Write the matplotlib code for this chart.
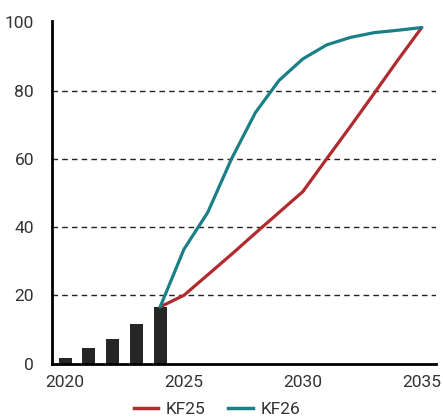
import matplotlib
matplotlib.use("Agg")
import matplotlib.pyplot as plt
from matplotlib.lines import Line2D

plt.rcParams['font.family'] = ['Roboto', 'DejaVu Sans']

bar_years = [2020, 2021, 2022, 2023, 2024]
bar_values = [1.7, 4.6, 7.3, 11.7, 16.6]

years = [2024, 2025, 2026, 2027, 2028, 2029, 2030, 2031, 2032, 2033, 2034, 2035]
kf25 = [16.6, 20.0, 26.0, 32.0, 38.2, 44.3, 50.4, 60.0, 69.5, 79.2, 89.0, 98.5]
kf26 = [16.6, 33.5, 44.3, 60.0, 73.5, 83.0, 89.3, 93.4, 95.6, 97.0, 97.7, 98.5]

xticks = [2020, 2025, 2030, 2035]
yticks = [0, 20, 40, 60, 80, 100]
gridlines = [20, 40, 60, 80]

red = '#B02A2E'
teal = '#1B7F87'

fig = plt.figure(figsize=(4.43, 4.17), dpi=100)
ax = fig.add_axes([52/443, 1-363.5/417, 384/443, (363.5-20.7)/417])

for g in gridlines:
    ax.axhline(g, color='#222222', lw=1.0, ls=(0, (4, 3)), zorder=1)

ax.bar(bar_years, bar_values, width=0.55, color='#262626', zorder=2)
ax.plot(years, kf25, color=red, lw=2.3, zorder=3, solid_capstyle='round')
ax.plot(years, kf26, color=teal, lw=2.3, zorder=4, solid_capstyle='round')

ax.set_xlim(2019.45, 2035.6)
ax.set_ylim(0, 100.5)
ax.set_xticks(xticks)
ax.set_yticks(yticks)
ax.tick_params(length=0, labelsize=12.5, colors='#333333', pad=8)
ax.tick_params(axis='y', pad=13)
for s in ['top', 'right']:
    ax.spines[s].set_visible(False)
for s in ['left', 'bottom']:
    ax.spines[s].set_color('black')
    ax.spines[s].set_linewidth(2)

handles = [Line2D([0], [0], color=red, lw=2.5), Line2D([0], [0], color=teal, lw=2.5)]
fig.legend(handles, ['KF25', 'KF26'], loc='lower center', bbox_to_anchor=(0.49, -0.038),
           ncol=2, frameon=False, fontsize=12.5, handlelength=1.4, columnspacing=1.3,
           handletextpad=0.45, labelcolor='#333333')

fig.savefig('out.png', dpi=100)
